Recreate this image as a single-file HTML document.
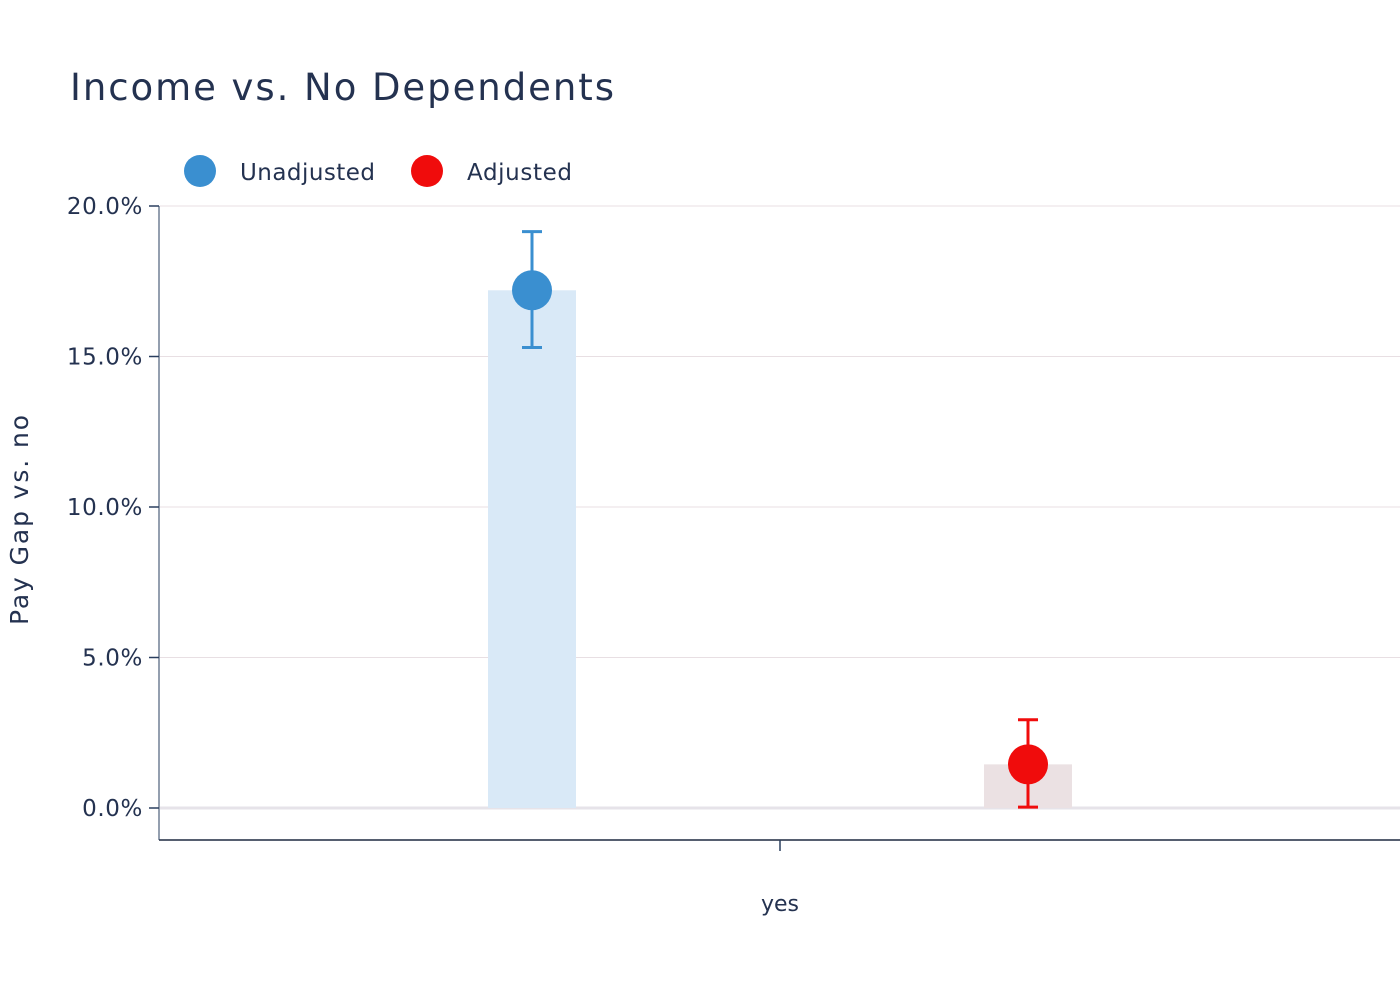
<!DOCTYPE html>
<html><head><meta charset="utf-8"><style>
body{margin:0;background:#fff;}
svg text{font-family:"DejaVu Sans","Liberation Sans",sans-serif;fill:#243250;}
</style></head><body>
<svg width="1400" height="1000" xmlns="http://www.w3.org/2000/svg" id="chart">
<text x="70" y="100" font-size="37" textLength="544">Income vs. No Dependents</text>
<g>
<g><circle cx="200" cy="171" r="16" fill="#3a8fd0"/><text x="240" y="180" font-size="23" textLength="135">Unadjusted</text></g>
<g><circle cx="427" cy="171" r="16" fill="#f00c0c"/><text x="467" y="180" font-size="23" textLength="105">Adjusted</text></g>
</g>
<g id="grid"></g>
<g id="yticks"></g>
<g id="marks"></g>
<line x1="159" y1="840" x2="1400" y2="840" stroke="#1f2a40" stroke-width="1.5"/>
<line x1="159" y1="206" x2="159" y2="840" stroke="#2a3f5f" stroke-width="1"/>
<line x1="780" y1="840" x2="780" y2="851" stroke="#2a3f5f" stroke-width="1.5"/>
<text x="780" y="911" font-size="22" text-anchor="middle">yes</text>
<text transform="translate(28,520) rotate(-90)" font-size="25" text-anchor="middle" textLength="210">Pay Gap vs. no</text>
</svg>
<script>
const categories = ["Unadjusted", "Adjusted"];
const values = [17.2, 1.45];
const errUpper = [19.15, 2.93];
const errLower = [15.3, 0.03];
const yTicks = [0, 5, 10, 15, 20];
const yTickLabels = ["0.0%", "5.0%", "10.0%", "15.0%", "20.0%"];
const colors = ["#3a8fd0", "#f00c0c"];
const barColors = ["#d9e9f7", "#ebe1e3"];
const xCenters = [532, 1028];
const NS = "http://www.w3.org/2000/svg";
function y(v){return 808 - v*30.1;}
function mk(tag, attrs, parent){const e=document.createElementNS(NS,tag);for(const k in attrs)e.setAttribute(k,attrs[k]);parent.appendChild(e);return e;}
const grid=document.getElementById('grid'), yt=document.getElementById('yticks'), marks=document.getElementById('marks');
yTicks.forEach((t,i)=>{
  if(t!==0){const g=mk('line',{x1:160,x2:1400,y1:y(t),y2:y(t),stroke:'#e8dfe3','stroke-width':1},grid);
  
  }
  const tk=mk('line',{x1:149,x2:159,y1:y(t),y2:y(t),stroke:'#2a3f5f','stroke-width':1.5},yt);
  
  
  const tx=mk('text',{x:143,y:y(t)+8,'font-size':23,'text-anchor':'end','letter-spacing':0.6},yt);
  tx.textContent=yTickLabels[i];
  
  
});
const zl=mk('rect',{x:160,y:y(0)-1.5,width:1240,height:3,fill:'#e6e3e9'},marks);


categories.forEach((c,i)=>{
  const cx=xCenters[i];
  const b=mk('rect',{x:cx-44,y:y(values[i]),width:88,height:y(0)-y(values[i]),fill:barColors[i]},marks);
  
  
  const eb=mk('path',{d:`M${cx},${y(errUpper[i])}V${y(errLower[i])}M${cx-10},${y(errUpper[i])}H${cx+10}M${cx-10},${y(errLower[i])}H${cx+10}`,stroke:colors[i],'stroke-width':3,fill:'none'},marks);
  
  
  const p=mk('circle',{cx:cx,cy:y(values[i]),r:20,fill:colors[i]},marks);
  
  
});
</script>
</body></html>
